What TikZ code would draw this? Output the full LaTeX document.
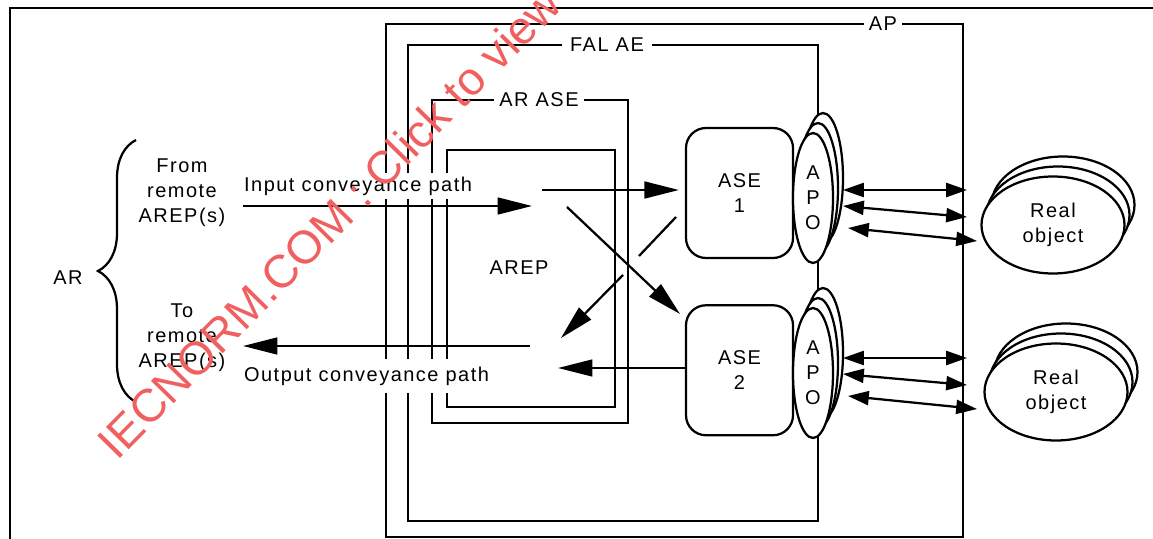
\documentclass[tikz,border=0pt]{standalone}
\usepackage{fontspec}
\setmainfont{Liberation Sans}[LetterSpace=7.5]
\newfontfamily\markfont{Liberation Sans}
\usepackage{tikz}
\usetikzlibrary{positioning}
\usetikzlibrary{calc}
\usetikzlibrary{arrows.meta}
\usetikzlibrary{shapes.geometric}
\usetikzlibrary{decorations.pathreplacing}
\definecolor{markred}{RGB}{240,96,96}

\begin{document}
\begin{tikzpicture}[x=0.25mm, y=-0.25mm, line width=1.6pt,
    every node/.style={font=\fontsize{14.2pt}{17.7pt}\selectfont, align=center},
    arr/.style={-{Triangle[length=8.6mm, width=4.2mm]}},
    darr/.style={{Triangle[length=5.2mm, width=3.5mm]}-{Triangle[length=5.2mm, width=3.5mm]}},
    ase/.style={draw, fill=white, rounded corners=5mm, minimum width=26.75mm, minimum height=32.5mm},
    apo/.style={draw, fill=white, ellipse, inner sep=0pt, minimum width=10mm, minimum height=32.5mm},
    obj/.style={draw, fill=white, ellipse, inner sep=0pt, minimum width=35.75mm, minimum height=24.25mm},
    tag/.style={fill=white, inner xsep=1.3mm, inner ysep=0.5mm}]

    \useasboundingbox (0,0) rectangle (1153,539);

    % frames
    \draw (10,539) -- (10,8) -- (1153,8);
    \draw (386,24) rectangle (963,537);
    \draw (408,45) rectangle (818,521);
    \draw (432,100) rectangle (628,423);
    \draw (447,150) rectangle (615,407);

    \node[tag] (ap) at (883,24) {AP};
    \node[tag, inner xsep=2mm] (falae) at (607,45) {FAL AE};
    \node[tag] (arase) at (539,100) {AR ASE};
    \node (arep) at (519,268) {AREP};

    % AR side
    \node (from) at (182,193) {From\\remote\\AREP(s)};
    \node (to) at (182,338) {To\\remote\\AREP(s)};
    \node (ar) at (68,278) {AR};
    \coordinate (brtop) at (136,140);
    \coordinate (brbot) at (136,402);
    \draw[decorate, decoration={brace, amplitude=9.5mm}] (brbot) -- (brtop);

    \node[fill=white, anchor=west, inner xsep=0.5mm, inner ysep=1mm] (inpath) at (241,186) {Input conveyance path};
    \node[fill=white, anchor=west, inner xsep=0.5mm, inner ysep=2mm] (outpath) at (241,376) {Output conveyance path};

    % ASEs and APOs
    \node[ase] (ase1) at (739.5,193) {ASE\\1};
    \node[ase, below=11.25mm of ase1] (ase2) {ASE\\2};

    \foreach \n/\y in {1/198, 2/373} {
        \node[apo] (apo\n c) at (823,\y-20) {};
        \node[apo] (apo\n b) at (818,\y-10) {};
        \node[apo] (apo\n) at (813,\y) {A\\P\\O};
    }

    \foreach \n/\x/\y in {1/1053/225, 2/1056/392} {
        \node[obj] (obj\n c) at (\x+10,\y-20) {};
        \node[obj] (obj\n b) at (\x+5,\y-10) {};
        \node[obj] (obj\n) at (\x,\y) {Real\\object};
    }

    % conveyance arrows
    \coordinate (inA) at (243,206);
    \coordinate (inB) at (532,206);
    \draw[arr] (inA) -- (inB);
    \coordinate (outA) at (530,346);
    \coordinate (outB) at (243,346);
    \draw[arr] (outA) -- (outB);

    \coordinate (toase1) at (542,190);
    \draw[arr, shorten >=1.5mm] (toase1) -- (ase1.west |- toase1);
    \coordinate (x1) at (567,207);
    \coordinate (x2) at (680,314);
    \draw[arr] (x1) -- (x2);
    \coordinate (y1) at (676,217);
    \coordinate (y2) at (639,256);
    \coordinate (y3) at (623,275);
    \coordinate (y4) at (561,338);
    \draw (y1) -- (y2);
    \draw[arr] (y3) -- (y4);
    \coordinate (fromase2) at (558,368);
    \draw[arr] (ase2.west |- fromase2) -- (fromase2);

    % APO to real objects
    \foreach \n/\y in {1/190, 2/358} {
        \draw[darr] (843,\y) -- (967,\y);
        \draw[darr] (843,\y+16) -- (967,\y+27);
        \draw[darr] (848,\y+38) -- (977,\y+51);
    }

    % watermark
    \node[text=markred, font=\markfont\fontsize{33pt}{33pt}\selectfont, rotate=45.5, anchor=base west, inner sep=0pt] (mark) at (117,462) {IECNORM.COM : Click to view};
\end{tikzpicture}
\end{document}
